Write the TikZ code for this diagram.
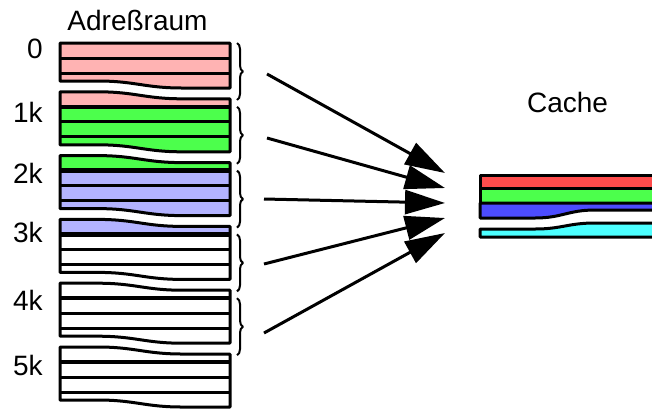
\documentclass[tikz,border=0pt]{standalone}
\usepackage{fontspec}
\setmainfont{Liberation Sans}
\usepackage{tikz}
\usetikzlibrary{arrows.meta,positioning}
\usetikzlibrary{decorations.pathreplacing}

\definecolor{rosa}{RGB}{255,179,179}
\definecolor{gruen}{RGB}{76,255,76}
\definecolor{lila}{RGB}{179,179,255}
\definecolor{rot}{RGB}{255,76,76}
\definecolor{blau}{RGB}{76,76,255}
\definecolor{tuerkis}{RGB}{76,255,255}

\begin{document}
\begin{tikzpicture}[x=1pt, y=-1pt, line width=3pt, line join=round,
  font=\fontsize{28}{32}\selectfont,
  klammer/.style={line width=2pt, decorate, decoration={brace, amplitude=6pt}},
  pfeil/.style={line width=3pt, -{Triangle[length=40pt, width=24pt]}}]
\useasboundingbox (0,0) rectangle (652,408);
%\draw[step=10,gray,very thin] (0,0) grid (652,408);
\node[anchor=base] (adr) at (137.5,30) {Adreßraum};%%
\node[anchor=base] (cache) at (567.5,112) {Cache};%%
% Adressraum: sechs Stuecke mit Abriss oben und unten
\foreach \k/\vor/\farbe/\bl in {0/white/rosa/58,1/rosa/gruen/122,2/gruen/lila/183,
    3/lila/white/242,4/white/white/310,5/white/white/375}{
  \pgfmathsetmacro{\y}{43+63.8*\k}
  \pgfmathsetmacro{\tl}{\k==0 ? \y : \y-15}
  \pgfmathsetmacro{\tr}{\k==0 ? \y : \y-8}
  \fill[\farbe] (60,\tl) -- (98,\tl) .. controls (135,\tl) and (145,\tr) .. (182,\tr) -- (230,\tr)
    -- (230,\y+45) -- (182,\y+45) .. controls (145,\y+45) and (135,\y+38) .. (98,\y+38) -- (60,\y+38) -- cycle;%%
  \fill[\vor] (60,\tl) -- (98,\tl) .. controls (135,\tl) and (145,\tr) .. (182,\tr) -- (230,\tr)
    -- (230,\y) -- (60,\y) -- cycle;%%
  \draw (60,\tl) -- (98,\tl) .. controls (135,\tl) and (145,\tr) .. (182,\tr) -- (230,\tr)
    -- (230,\y+45) -- (182,\y+45) .. controls (145,\y+45) and (135,\y+38) .. (98,\y+38) -- (60,\y+38) -- cycle;%%
  \ifnum\k>0 \draw[line width=4.5pt] (60,\y) -- (230,\y);\fi
  \draw (60,\y+15) -- (230,\y+15);%%
  \draw (60,\y+30) -- (230,\y+30);%%
  \node[anchor=base east] (l\k) at (47.5,\bl) {\ifnum\k=0 0\else\k k\fi};%%
}
% Klammern je 1k
\foreach \k in {0,...,4}{
  \pgfmathsetmacro{\y}{43+63.8*\k}
  \draw[klammer] (237,\y) -- (237,\y+57);%%
}
% Cache, rechts ueber den Rand hinaus
\filldraw[fill=rot] (480,175) rectangle (656,188);%%
\filldraw[fill=gruen] (480,188) rectangle (656,203);%%
\filldraw[fill=blau] (480,203) -- (656,203) -- (656,210) -- (595,210)
  .. controls (568,210) and (562,218) .. (535,218) -- (480,218) -- cycle;%%
\filldraw[fill=tuerkis] (480,229) -- (535,229) .. controls (562,229) and (568,223) .. (595,223)
  -- (656,223) -- (656,237) -- (480,237) -- cycle;%%
% Pfeile
\coordinate (q0) at (267,74);   \coordinate (z0) at (445,173);
\coordinate (q1) at (267,138);  \coordinate (z1) at (445,188);
\coordinate (q2) at (264,199);  \coordinate (z2) at (445,203);
\coordinate (q3) at (264,264);  \coordinate (z3) at (445,218);
\coordinate (q4) at (264,333);  \coordinate (z4) at (445,233);
\foreach \i in {0,...,4}
  \draw[pfeil] (q\i) -- (z\i);%%
\end{tikzpicture}
\end{document}
